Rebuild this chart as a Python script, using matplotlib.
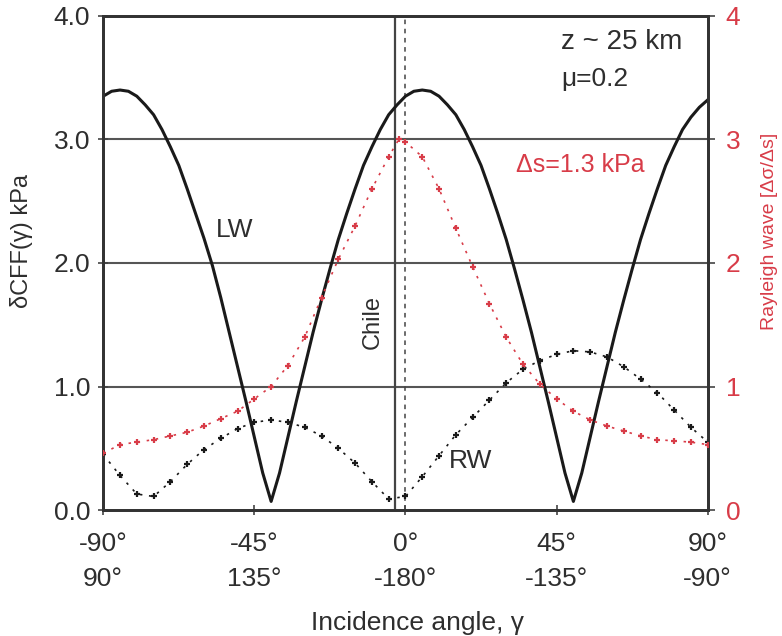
import matplotlib.pyplot as plt

plt.rcParams['font.family'] = ['Liberation Sans', 'DejaVu Sans']

# Love wave dCFF (kPa), left axis
lw_angle = [-90, -87.5, -85, -82.5, -80, -77.5, -75, -72.5, -70, -67.5, -65, -62.5,
            -60, -57.5, -55, -52.5, -50, -47.5, -45, -42.5, -40, -37.5, -35, -32.5,
            -30, -27.5, -25, -22.5, -20, -17.5, -15, -12.5, -10, -7.5, -5, -2.5,
            0, 2.5, 5, 7.5, 10, 12.5, 15, 17.5, 20, 22.5, 25, 27.5, 30, 32.5, 35,
            37.5, 40, 42.5, 45, 47.5, 50, 52.5, 55, 57.5, 60, 62.5, 65, 67.5, 70,
            72.5, 75, 77.5, 80, 82.5, 85, 87.5, 90]
lw_cff = [3.35, 3.39, 3.40, 3.39, 3.35, 3.28, 3.20, 3.08, 2.94, 2.79, 2.60, 2.40,
          2.20, 1.98, 1.72, 1.44, 1.16, 0.88, 0.59, 0.30, 0.07, 0.30, 0.59, 0.88,
          1.16, 1.44, 1.70, 1.95, 2.19, 2.40, 2.60, 2.79, 2.94, 3.08, 3.20, 3.28,
          3.35, 3.39, 3.40, 3.39, 3.35, 3.28, 3.20, 3.08, 2.94, 2.79, 2.60, 2.40,
          2.19, 1.95, 1.70, 1.44, 1.16, 0.88, 0.59, 0.30, 0.07, 0.30, 0.59, 0.88,
          1.16, 1.44, 1.70, 1.95, 2.19, 2.40, 2.60, 2.79, 2.94, 3.08, 3.18, 3.26, 3.32]

# Rayleigh wave dCFF (kPa), left axis
rw_angle = [-90, -85, -80, -75, -70, -65, -60, -55, -50, -45, -40, -35, -30, -25, -20,
            -15, -10, -5, 0, 5, 10, 15, 20, 25, 30, 35, 40, 45, 50, 55, 60, 65, 70,
            75, 80, 85, 90]
rw_cff = [0.45, 0.28, 0.13, 0.11, 0.23, 0.37, 0.49, 0.58, 0.66, 0.71, 0.73, 0.71, 0.67,
          0.60, 0.50, 0.38, 0.23, 0.09, 0.11, 0.27, 0.44, 0.61, 0.75, 0.89, 1.03, 1.14,
          1.21, 1.26, 1.29, 1.28, 1.24, 1.16, 1.06, 0.95, 0.81, 0.67, 0.55]

# Rayleigh wave amplitude, right axis
ray_angle = [-90, -85, -80, -75, -70, -65, -60, -55, -50, -45, -40, -35, -30, -25, -20,
             -15, -10, -5, -2, 0, 5, 10, 15, 20, 25, 30, 35, 40, 45, 50, 55, 60, 65,
             70, 75, 80, 85, 90]
ray_amp = [0.46, 0.53, 0.55, 0.57, 0.60, 0.63, 0.68, 0.74, 0.80, 0.90, 1.00, 1.17, 1.40,
           1.72, 2.03, 2.30, 2.60, 2.86, 3.00, 2.98, 2.86, 2.60, 2.28, 1.97, 1.67, 1.40,
           1.18, 1.02, 0.90, 0.80, 0.73, 0.68, 0.64, 0.60, 0.57, 0.56, 0.55, 0.53]

xticks = [-90, -45, 0, 45, 90]
xtick_labels = ['-90°\n90°', '-45°\n135°', '0°\n-180°', '45°\n-135°', '90°\n-90°']
yticks = [0, 1, 2, 3, 4]

chile_angle = -3
ink = '#2e2e2e'
red = '#d83c48'
fs = 19

fig = plt.figure(figsize=(7.82, 6.36), dpi=100)
ax = fig.add_axes([0.132, 0.198, 0.773, 0.777])
ax2 = ax.twinx()

for yv in [1, 2, 3]:
    ax.axhline(yv, color='#555555', lw=1.5, zorder=1)
ax.axvline(chile_angle, color='#444444', lw=1.6, zorder=1)
ax.axvline(0, color='#444444', lw=1.1, dashes=(3, 3), zorder=1)

ax.plot(lw_angle, lw_cff, color='#1a1a1a', lw=2.2, zorder=3)
ax.plot(rw_angle, rw_cff, color='#1a1a1a', lw=1.2, ls=(0, (1.5, 4)),
        marker='+', ms=5, mew=1.6, zorder=3)
ax2.plot(ray_angle, ray_amp, color=red, lw=1.2, ls=(0, (1.5, 4)),
         marker='+', ms=5, mew=1.6, zorder=3)

ax.set_xlim(-90, 90)
ax.set_ylim(0, 4)
ax2.set_ylim(0, 4)
ax.set_xticks(xticks)
ax.set_xticklabels(xtick_labels, fontsize=fs, color=ink, linespacing=1.58)
ax.set_yticks(yticks)
ax.set_yticklabels([f'{v:.1f}' for v in yticks], fontsize=fs, color=ink)
ax2.set_yticks(yticks)
ax2.set_yticklabels([str(v) for v in yticks], fontsize=fs, color=red)

ax.tick_params(axis='x', direction='inout', length=7, width=1.2, colors='#444444', pad=12)
ax.tick_params(axis='y', direction='inout', length=7, width=1.2, colors='#444444', pad=6)
ax.tick_params(labelcolor=ink)
ax2.tick_params(axis='y', direction='out', length=5, width=1.2, colors='#444444',
                labelcolor=red, pad=8)

for a in (ax, ax2):
    for sp in a.spines.values():
        sp.set_linewidth(2)
        sp.set_color('#333333')

ax.set_xlabel('Incidence angle, γ', fontsize=fs, color=ink)
ax.xaxis.set_label_coords(0.52, -0.205)
ax.set_ylabel('δCFF(γ) kPa', fontsize=fs - 2, color=ink)
ax.yaxis.set_label_coords(-0.116, 0.545)
ax2.set_ylabel('Rayleigh wave [Δσ/Δs]', fontsize=fs - 5, color=red)
ax2.yaxis.set_label_coords(1.088, 0.563)

ax.text(64.5, 3.79, 'z ~ 25 km', fontsize=fs + 1, color=ink, ha='center', va='center')
ax.text(56.4, 3.49, 'μ=0.2', fontsize=fs, color=ink, ha='center', va='center')
ax.text(52.2, 2.79, 'Δs=1.3 kPa', fontsize=fs - 1, color=red, ha='center', va='center')
ax.text(-51, 2.27, 'LW', fontsize=fs, color=ink, ha='center', va='center')
ax.text(19.5, 0.40, 'RW', fontsize=fs, color=ink, ha='center', va='center')
ax.text(-9.6, 1.52, 'Chile', fontsize=fs - 2, color=ink, ha='center', va='center',
        rotation=90)

fig.savefig('out.png', dpi=100)
